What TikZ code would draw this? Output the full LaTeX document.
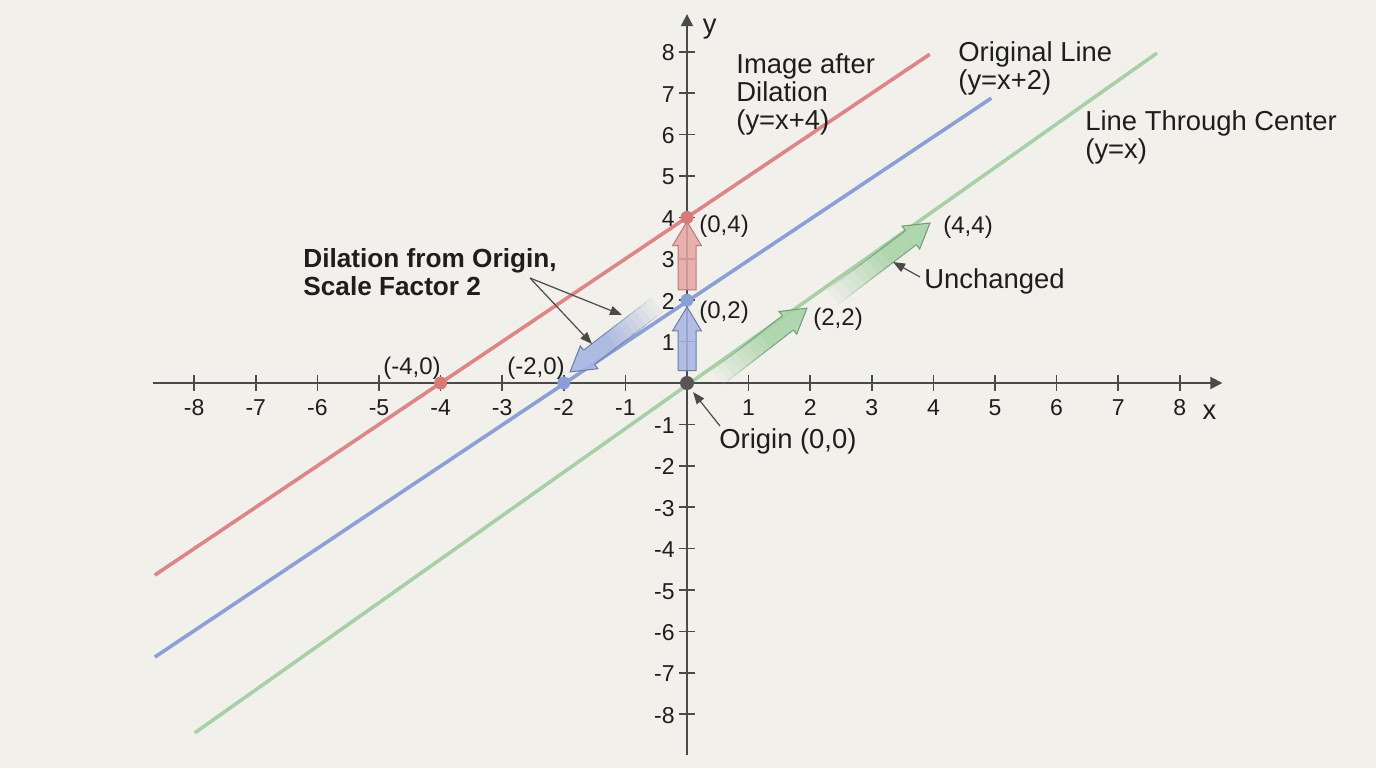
\documentclass[tikz,border=0pt]{standalone}
\usepackage{fontspec}
\setmainfont{Liberation Sans}
\usetikzlibrary{arrows.meta,calc}
\definecolor{bg}{HTML}{F2F0EA}
\definecolor{txt}{HTML}{1E1E1E}
\definecolor{axc}{HTML}{4A4A4A}
\definecolor{redl}{HTML}{E08585}
\definecolor{bluel}{HTML}{8CA0D8}
\definecolor{greenl}{HTML}{A8D0A8}
\definecolor{redfill}{HTML}{E8A6A3}
\definecolor{reddraw}{HTML}{B87878}
\definecolor{bluefill}{HTML}{A6B5E2}
\definecolor{bluedraw}{HTML}{6C7BA8}
\definecolor{greenfill}{HTML}{A9D4A9}
\definecolor{greendraw}{HTML}{6E9A74}
\definecolor{reddot}{HTML}{D97A78}
\definecolor{bluedot}{HTML}{8A9ED8}
\definecolor{origdot}{HTML}{5A5454}
\newdimen\faDX
\newdimen\faDY
% #1 tail, #2 tip, #3 fill, #4 draw, #5 fade (1) or solid (0)
\newcommand\fatarrow[5]{%
  \pgfextractx{\faDX}{\pgfpointdiff{\pgfpointanchor{#1}{center}}{\pgfpointanchor{#2}{center}}}%
  \pgfextracty{\faDY}{\pgfpointdiff{\pgfpointanchor{#1}{center}}{\pgfpointanchor{#2}{center}}}%
  \pgfmathsetmacro\faAng{atan2(\faDY,\faDX)}%
  \pgfmathsetmacro\faLen{veclen(\faDX,\faDY)}%
  \pgfmathsetmacro\faB{\faLen-12}%
  \begin{scope}[shift={(#1)}, rotate=\faAng, x=1pt, y=1pt]
    \ifnum#5=1
      \foreach \i in {1,...,12}{%
        \pgfmathsetmacro\faLo{\faB*(\i-1)/12}%
        \pgfmathsetmacro\faHi{\faB*\i/12}%
        \pgfmathsetmacro\faOp{min(0.9,0.1*\i)}%
        \fill[#3, fill opacity=\faOp] (\faLo,-4.5) rectangle (\faHi,4.5);
        \draw[#4, line width=0.5pt, draw opacity=\faOp] (\faLo,-4.5) -- (\faHi,-4.5) (\faLo,4.5) -- (\faHi,4.5);
      }
      \filldraw[fill=#3, draw=#4, line width=0.5pt, fill opacity=0.9] (\faB,4.5) -- (\faB,7.2) -- (\faLen,0) -- (\faB,-7.2) -- (\faB,-4.5);
    \else
      \filldraw[fill=#3, draw=#4, line width=0.5pt, fill opacity=0.85] (0,-4.5) -- (\faB,-4.5) -- (\faB,-7.2) -- (\faLen,0) -- (\faB,7.2) -- (\faB,4.5) -- (0,4.5) -- cycle;
    \fi
  \end{scope}}
\begin{document}
\begin{tikzpicture}[x=0.5pt,y=-0.5pt,
  lbl/.style={font=\fontsize{13.7}{14}\selectfont, inner sep=0pt, align=left, anchor=north west, text=txt},
  blbl/.style={font=\bfseries\fontsize{13.1}{14}\selectfont, inner sep=0pt, align=left, anchor=north west, text=txt},
  coordlbl/.style={font=\fontsize{12}{14}\selectfont, inner sep=0pt, anchor=base west, text=txt},
  ticklbl/.style={font=\fontsize{11.5}{13}\selectfont, inner sep=0pt, text=txt},
  axis/.style={draw=axc, line width=1pt},
  graphline/.style={line width=1.8pt},
  pointer/.style={draw=axc, line width=0.6pt, -{Triangle[length=6pt,width=4.6pt]}},
  ptdot/.style={circle, inner sep=0pt, minimum size=6.5pt}]
\path[use as bounding box, fill=bg] (0,0) rectangle (1376,768);
\begin{scope}[shift={(687,383)}, x=30.8pt, y=20.7pt]
  % axes
  \draw[axis, -{Triangle[length=6pt,width=6pt]}] (-8.67,0) -- (8.69,0);
  \draw[axis, -{Triangle[length=6pt,width=6pt]}] (0,-8.99) -- (0,8.91);
  \foreach \i in {-8,-7,...,-1,1,2,...,8}{
    \draw[axis, line width=0.8pt] (\i,-0.19) -- (\i,0.19);
    \node[ticklbl, anchor=base] at (\i,-0.773) {\i};
    \draw[axis, line width=0.8pt] (-0.13,\i) -- (0.13,\i);
    \node[ticklbl, anchor=base east] at (-0.195,\i-0.217) {\i};
  }
  \node[ticklbl, font=\fontsize{13.7}{14}\selectfont, anchor=base] (xl) at (8.48,-0.89) {x};
  \node[ticklbl, font=\fontsize{13.7}{14}\selectfont, anchor=base] (yl) at (0.37,8.45) {y};
  % lines
  \draw[graphline, redl] (-8.64,-4.64) -- (3.94,7.94);
  \draw[graphline, bluel] (-8.64,-6.62) -- (4.94,6.88);
  \draw[graphline, greenl] (-7.99,-8.45) -- (7.63,7.97);
  % arrow end points
  \coordinate (bvT) at (0,0.30);
  \coordinate (bvH) at (0,1.84);
  \coordinate (rvT) at (0,2.25);
  \coordinate (rvH) at (0,3.90);
  \coordinate (bdT) at (-0.487,1.884);
  \coordinate (bdH) at (-1.90,0.266);
  \coordinate (g1T) at (0.49,0.13);
  \coordinate (g1H) at (1.948,1.81);
  \coordinate (g2T) at (2.37,2.08);
  \coordinate (g2H) at (3.945,3.865);
\end{scope}
\fatarrow{bvT}{bvH}{bluefill}{bluedraw}{0}
\fatarrow{rvT}{rvH}{redfill}{reddraw}{0}
\fatarrow{bdT}{bdH}{bluefill}{bluedraw}{1}
\fatarrow{g1T}{g1H}{greenfill}{greendraw}{1}
\fatarrow{g2T}{g2H}{greenfill}{greendraw}{1}
\begin{scope}[shift={(687,383)}, x=30.8pt, y=20.7pt]
  \node[ptdot, fill=reddot] (R4) at (0,4) {};
  \node[ptdot, fill=reddot] (Rm4) at (-4,0) {};
  \node[ptdot, fill=bluedot] (B2) at (0,2) {};
  \node[ptdot, fill=bluedot] (Bm2) at (-2,0) {};
  \node[ptdot, fill=origdot, minimum size=7pt] (O) at (0,0) {};
\end{scope}
% labels
\node[lbl] (img) at (736,53) {Image after\\Dilation\\(y=x+4)};
\node[lbl] (orig) at (958,41) {Original Line\\(y=x+2)};
\node[lbl] (thru) at (1085,110) {Line Through Center\\(y=x)};
\node[blbl] (dil) at (303,248) {Dilation from Origin,\\Scale Factor 2};
\node[lbl, anchor=base west] (unch) at (924,288) {Unchanged};
\node[lbl, anchor=base west] (origin) at (719,448) {Origin (0,0)};
\node[coordlbl] at (699,232) {(0,4)};
\node[coordlbl] at (699,318) {(0,2)};
\node[coordlbl] at (813,325) {(2,2)};
\node[coordlbl] at (943,233) {(4,4)};
\node[coordlbl] at (383,374) {(-4,0)};
\node[coordlbl] at (507,374) {(-2,0)};
% pointers
\coordinate (dilS) at (530,278);
\coordinate (dilE1) at (622,315);
\coordinate (dilE2) at (592,344);
\coordinate (origS) at (720,426);
\coordinate (origE) at (693,392);
\coordinate (unchS) at (920,277);
\coordinate (unchE) at (893,262);
\draw[pointer] (dilS) -- (dilE1);
\draw[pointer] (dilS) -- (dilE2);
\draw[pointer] (origS) -- (origE);
\draw[pointer] (unchS) -- (unchE);
\end{tikzpicture}
\end{document}
